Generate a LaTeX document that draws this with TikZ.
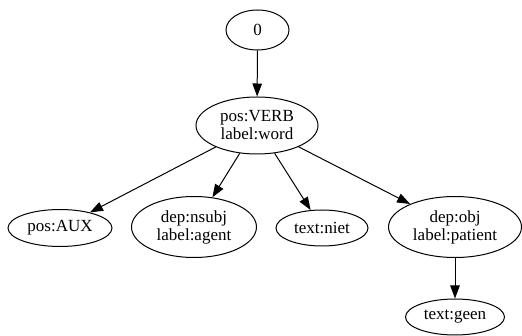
\documentclass[tikz,border=0pt]{standalone}
\usepackage{fontspec}
\setmainfont{Liberation Serif}
\usetikzlibrary{shapes.geometric,arrows.meta}
\begin{document}
\begin{tikzpicture}[x=1pt,y=-1pt,
  nd/.style={ellipse,draw,line width=1pt,inner sep=0pt,font=\fontsize{17}{18}\selectfont,align=center},
  arr/.style={-{Triangle[length=13pt,width=9.5pt]},line width=1pt}]
\useasboundingbox (0,0) rectangle (522,336);
\node[nd,minimum width=63pt,minimum height=40pt] (n0) at (257.5,30) {0};
\node[nd,minimum width=122pt,minimum height=57pt] (verb) at (257,125.5) {pos:VERB\\label:word};
\node[nd,minimum width=104pt,minimum height=37pt] (aux) at (60,228) {pos:AUX};
\node[nd,minimum width=125pt,minimum height=61pt] (nsubj) at (194,227) {dep:nsubj\\label:agent};
\node[nd,minimum width=92pt,minimum height=36pt] (niet) at (322,228) {text:niet};
\node[nd,minimum width=133pt,minimum height=61pt] (obj) at (455,227) {dep:obj\\label:patient};
\node[nd,minimum width=99pt,minimum height=36pt] (geen) at (455,317) {text:geen};
\draw[arr] (n0) -- (verb);
\draw[arr] (verb) -- (aux);
\draw[arr] (verb) -- (nsubj);
\draw[arr] (verb) -- (niet);
\draw[arr] (verb) -- (obj);
\draw[arr] (obj) -- (geen);
\end{tikzpicture}
\end{document}
